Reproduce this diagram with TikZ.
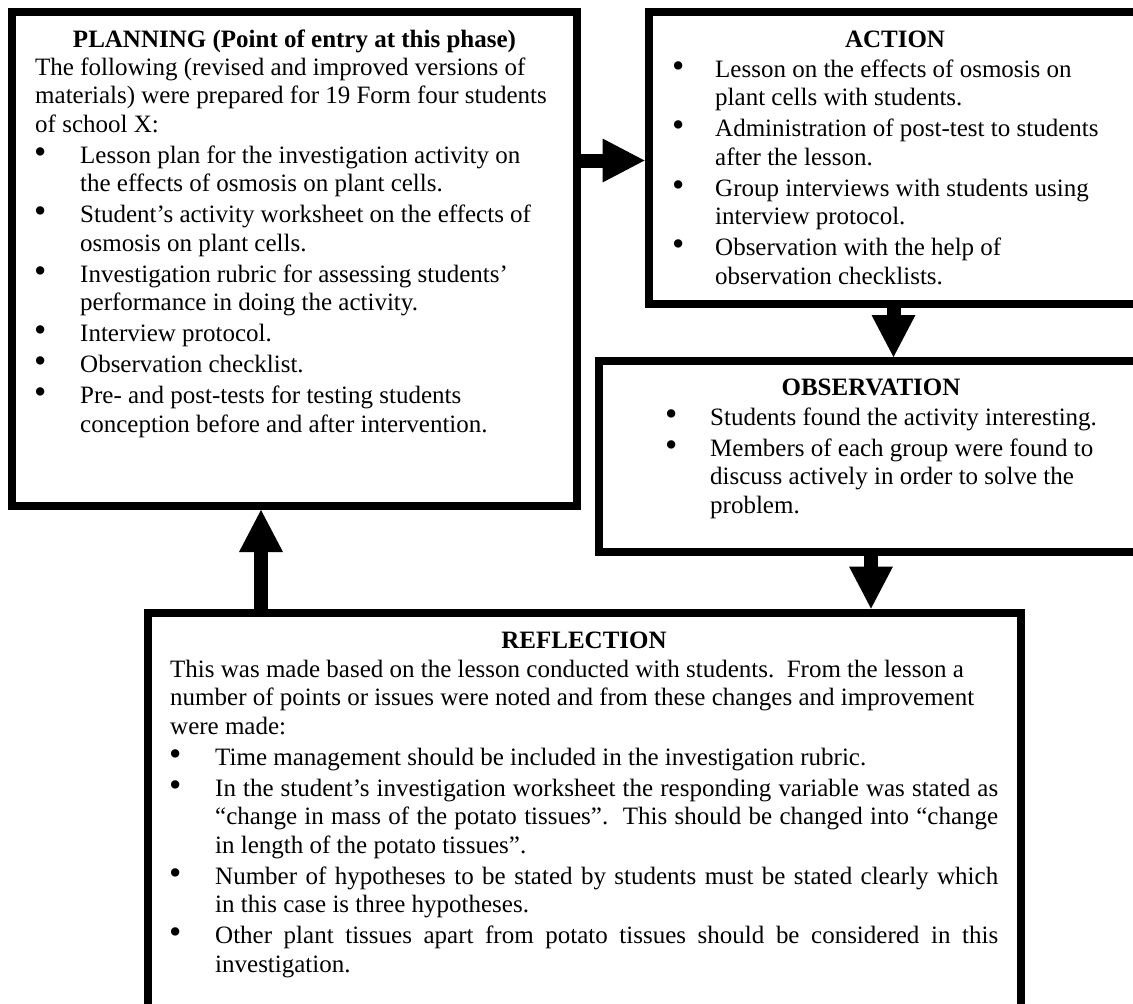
\documentclass[tikz,border=0pt]{standalone}
\usepackage{fontspec}
\setmainfont{Liberation Serif}
\usetikzlibrary{arrows.meta}
\newlength\bind
\newcommand\bdot{\hspace*{-1pt}\smash{\fontsize{35}{28.5}\selectfont\textbullet}}
\newcommand\pln[1]{\par\noindent\mbox{#1}}
\newcommand\bfst[1]{\par\noindent\mbox{\makebox[\bind][l]{\bdot}#1}}
\newcommand\bnxt[1]{\par\vspace{2.5pt}\noindent\mbox{\makebox[\bind][l]{\bdot}#1}}
\newcommand\bcnt[1]{\par\noindent\mbox{\hspace*{\bind}#1}}
\newcommand\jln[1]{\makebox[783pt][s]{#1}}
\tikzset{
  x=1pt, y=1pt,
  box/.style={draw=black, line width=8pt, rectangle, inner sep=0pt},
  fat/.style={draw=black, line width=14pt, -{Triangle[width=44pt 0, length=42pt 0, line width=0pt 0]}},
  ttl/.style={anchor=base, font=\fontsize{25}{28.5}\selectfont\bfseries, inner sep=0pt},
  body/.style={anchor=base west, font=\fontsize{25}{28.5}\selectfont, inner sep=0pt},
}
\begin{document}
\begin{tikzpicture}
\useasboundingbox (0,0) rectangle (1133,-1004);
\clip (0,0) rectangle (1133,-1004);
\fill[white] (0,0) rectangle (1133,-1004);

% boxes
\node[box, minimum width=565pt, minimum height=494pt] (plan) at (294.5,-259) {};
\node[box, minimum width=491pt, minimum height=292pt] (act) at (894,-158) {};
\node[box, minimum width=545pt, minimum height=190.5pt] (obs) at (871,-456.25) {};
\node[box, minimum width=873pt, minimum height=407.5pt] (refl) at (584,-816.25) {};

% titles
\node[ttl] (plantitle) at (294.5,-47) {PLANNING (Point of entry at this phase)};
\node[ttl] (acttitle) at (895,-47) {ACTION};
\node[ttl] (obstitle) at (871,-395) {OBSERVATION};
\node[ttl] (refltitle) at (584,-648) {REFLECTION};

% planning text
\node[body] (plantext) at (35,-75) {\parbox[t]{900pt}{\setlength\bind{45pt}%
\pln{The following (revised and improved versions of}
\pln{materials) were prepared for 19 Form four students}
\pln{of school X:}
\bnxt{Lesson plan for the investigation activity on}
\bcnt{the effects of osmosis on plant cells.}
\bnxt{Student’s activity worksheet on the effects of}
\bcnt{osmosis on plant cells.}
\bnxt{Investigation rubric for assessing students’}
\bcnt{performance in doing the activity.}
\bnxt{Interview protocol.}
\bnxt{Observation checklist.}
\bnxt{Pre- and post-tests for testing students}
\bcnt{conception before and after intervention.}}};

% action text
\node[body] (acttext) at (673,-77) {\parbox[t]{900pt}{\setlength\bind{42pt}%
\bfst{Lesson on the effects of osmosis on}
\bcnt{plant cells with students.}
\bnxt{Administration of post-test to students}
\bcnt{after the lesson.}
\bnxt{Group interviews with students using}
\bcnt{interview protocol.}
\bnxt{Observation with the help of}
\bcnt{observation checklists.}}};

% observation text
\node[body] (obstext) at (666,-425) {\parbox[t]{900pt}{\setlength\bind{44pt}%
\bfst{Students found the activity interesting.}
\bnxt{Members of each group were found to}
\bcnt{discuss actively in order to solve the}
\bcnt{problem.}}};

% reflection text
\node[body] (refltext) at (170,-677) {\parbox[t]{900pt}{\setlength\bind{45pt}%
\pln{This was made based on the lesson conducted with students.\ \ From the lesson a}
\pln{number of points or issues were noted and from these changes and improvement}
\pln{were made:}
\bnxt{Time management should be included in the investigation rubric.}
\bnxt{\jln{In the student’s investigation worksheet the responding variable was stated as}}
\bcnt{\jln{“change in mass of the potato tissues”.\ \ This should be changed into “change}}
\bcnt{in length of the potato tissues”.}
\bnxt{\jln{Number of hypotheses to be stated by students must be stated clearly which}}
\bcnt{in this case is three hypotheses.}
\bnxt{\jln{Other plant tissues apart from potato tissues should be considered in this}}
\bcnt{investigation.}}};

% connectors
\coordinate (r1) at (0,-160.5);
\coordinate (c2) at (893.5,0);
\coordinate (c3) at (871,0);
\coordinate (c4) at (261,0);
\draw[fat] (plan.east |- r1) -- (act.west |- r1);
\draw[fat] (act.south -| c2) -- (obs.north -| c2);
\draw[fat] (obs.south -| c3) -- (refl.north -| c3);
\draw[fat] (refl.north -| c4) -- (plan.south -| c4);
\end{tikzpicture}
\end{document}
